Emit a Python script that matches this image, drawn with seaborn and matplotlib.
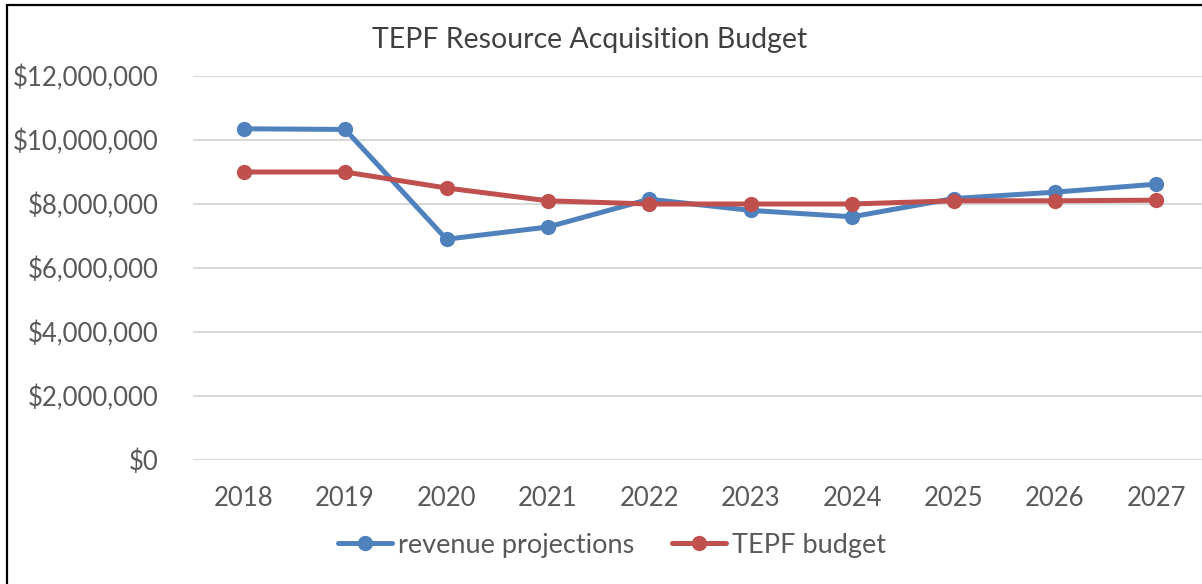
import pandas as pd
import matplotlib.pyplot as plt
import seaborn as sns
from matplotlib.lines import Line2D
from matplotlib.ticker import FuncFormatter

# chart values
years = [2018, 2019, 2020, 2021, 2022, 2023, 2024, 2025, 2026, 2027]
revenue_projections = [10350000, 10330000, 6900000, 7280000, 8150000,
                       7800000, 7600000, 8170000, 8370000, 8620000]
tepf_budget = [9000000, 9000000, 8500000, 8100000, 8000000,
               8000000, 8000000, 8100000, 8100000, 8120000]
series_names = ["revenue projections", "TEPF budget"]
y_ticks = [0, 2000000, 4000000, 6000000, 8000000, 10000000, 12000000]

BLUE = "#4F81BD"
RED = "#C0504D"
TEXT = "#595959"


def build_frame():
    df = pd.DataFrame({
        "year": years * 2,
        "value": revenue_projections + tepf_budget,
        "series": [series_names[0]] * len(years) + [series_names[1]] * len(years),
    })
    return df


def main():
    sns.set_style("white")
    plt.rcParams["font.family"] = ["Lato", "DejaVu Sans"]

    df = build_frame()

    fig = plt.figure(figsize=(12.02, 5.84), dpi=100)
    ax = fig.add_axes([193 / 1202, 124 / 584, 1014 / 1202, 384 / 584])

    sns.lineplot(
        data=df, x="year", y="value", hue="series",
        palette={series_names[0]: BLUE, series_names[1]: RED},
        marker="o", markersize=11, markeredgewidth=0,
        linewidth=3.6, ax=ax, legend=False, clip_on=False,
    )

    ax.set_xlim(2017.5, 2027.5)
    ax.set_ylim(0, 12000000)
    ax.set_xticks(years)
    ax.set_yticks(y_ticks)
    ax.yaxis.set_major_formatter(FuncFormatter(lambda v, p: f"${v:,.0f}"))
    ax.grid(axis="y", color="#D9D9D9", linewidth=1.5)
    ax.set_axisbelow(True)
    for s in ax.spines.values():
        s.set_visible(False)
    ax.tick_params(axis="y", length=0, pad=25, labelsize=18.5, labelcolor=TEXT)
    ax.tick_params(axis="x", length=0, pad=19, labelsize=18.5, labelcolor=TEXT)
    ax.set_xlabel("")
    ax.set_ylabel("")

    fig.text(590 / 1202, 1 - 40 / 584, "TEPF Resource Acquisition Budget",
             ha="center", va="center", fontsize=20.5, color="#404040")

    handles = [
        Line2D([], [], color=BLUE, lw=3.6, marker="o", ms=11, mew=0),
        Line2D([], [], color=RED, lw=3.6, marker="o", ms=11, mew=0),
    ]
    fig.legend(handles, series_names, loc="center", ncol=2,
               bbox_to_anchor=(612 / 1202, 1 - 545 / 584), frameon=False,
               fontsize=19.5, labelcolor=TEXT, handlelength=2.0,
               handletextpad=0.2, columnspacing=1.4)

    # outer border of the chart box (left and top edges visible)
    fig.add_artist(Line2D([7 / 1202, 7 / 1202], [0, 1 - 5 / 584],
                          color="black", lw=1.6, transform=fig.transFigure))
    fig.add_artist(Line2D([7 / 1202, 1], [1 - 5 / 584, 1 - 5 / 584],
                          color="black", lw=1.6, transform=fig.transFigure))

    fig.savefig("out.png", dpi=100)


if __name__ == "__main__":
    main()
